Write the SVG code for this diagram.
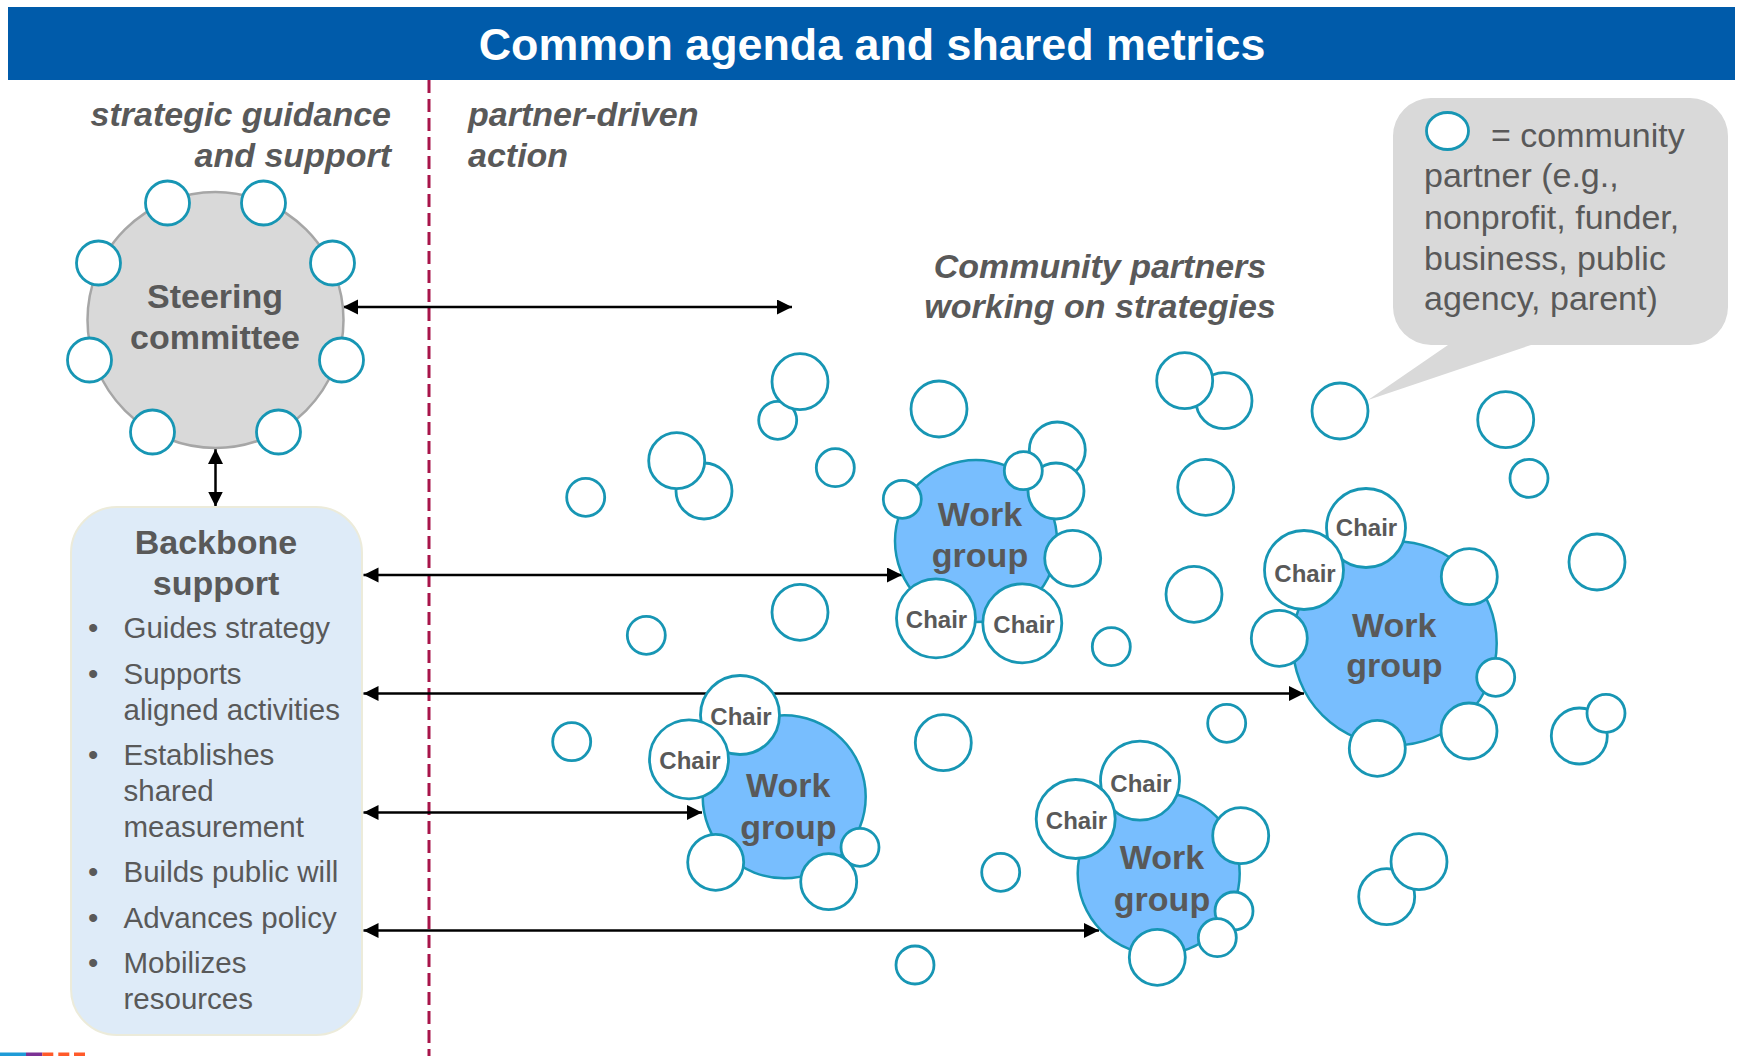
<svg xmlns="http://www.w3.org/2000/svg" width="1742" height="1056" viewBox="0 0 1742 1056">
<defs>
<style>
.t{font-family:"Liberation Sans",Arial,Helvetica,sans-serif;fill:#595959}
.b{font-weight:bold}
.i{font-style:italic}
.s34{font-size:34px}
.s30{font-size:29.5px}
.ch{font-size:24px;font-weight:bold;text-anchor:middle}
.m{text-anchor:middle}
.cp{fill:#ffffff;stroke:#1796B4;stroke-width:2.8}
.wg{fill:#78BEFE;stroke:#1796B4;stroke-width:2.5}
.conn{fill:none;stroke:#000;stroke-width:2.5;marker-start:url(#ah);marker-end:url(#ah)}
</style>
<marker id="ah" markerUnits="userSpaceOnUse" markerWidth="16" markerHeight="16" refX="15" refY="7.5" orient="auto-start-reverse" viewBox="0 0 16 16">
<path d="M0,0 L15,7.5 L0,15 Z" fill="#000"/>
</marker>
</defs>
<rect width="1742" height="1056" fill="#ffffff"/>

<g id="header">
<rect x="8" y="7" width="1727" height="73" fill="#005BAA"/>
<text x="872" y="60" class="m b" font-family="Liberation Sans, Arial, sans-serif" font-size="44.8" fill="#ffffff">Common agenda and shared metrics</text>
</g>

<line id="divider" x1="429" y1="80" x2="429" y2="1056" stroke="#A8154A" stroke-width="3" stroke-dasharray="13,6"/>

<g id="labels">
<text class="t b i s34" text-anchor="end" x="391" y="126">strategic guidance</text>
<text class="t b i s34" text-anchor="end" x="391" y="167">and support</text>
<text class="t b i s34" x="468" y="126">partner-driven</text>
<text class="t b i s34" x="468" y="167">action</text>
<text class="t b i s34 m" x="1100" y="278">Community partners</text>
<text class="t b i s34 m" x="1100" y="318">working on strategies</text>
</g>

<g id="legend">
<path d="M1431,98 H1690 A38,38 0 0 1 1728,136 V307 A38,38 0 0 1 1690,345 H1531 L1368,400 L1448,345 H1431 A38,38 0 0 1 1393,307 V136 A38,38 0 0 1 1431,98 Z" fill="#D9D9D9"/>
<ellipse cx="1447.5" cy="131" rx="21" ry="18.5" class="cp"/>
<text class="t s34" x="1491" y="147">= community</text>
<text class="t s34" x="1424" y="187">partner (e.g.,</text>
<text class="t s34" x="1424" y="229">nonprofit, funder,</text>
<text class="t s34" x="1424" y="270">business, public</text>
<text class="t s34" x="1424" y="310">agency, parent)</text>
</g>

<g id="connectors">
<line class="conn" x1="343" y1="307" x2="792" y2="307"/>
<line class="conn" x1="215.5" y1="449" x2="215.5" y2="506.5"/>
<line class="conn" x1="363.5" y1="575" x2="902" y2="575"/>
<line class="conn" x1="363.5" y1="693.5" x2="1304" y2="693.5"/>
<line class="conn" x1="363.5" y1="812.5" x2="702" y2="812.5"/>
<line class="conn" x1="363.5" y1="930.5" x2="1099" y2="930.5"/>
</g>

<g id="steering-committee">
<circle cx="215.5" cy="320" r="128" fill="#D9D9D9" stroke="#A6A6A6" stroke-width="2.5"/>
<circle class="cp" cx="167.5" cy="203" r="22"/>
<circle class="cp" cx="263.5" cy="203" r="22"/>
<circle class="cp" cx="98.5" cy="263" r="22"/>
<circle class="cp" cx="332.5" cy="263" r="22"/>
<circle class="cp" cx="89.5" cy="360" r="22"/>
<circle class="cp" cx="341.5" cy="360" r="22"/>
<circle class="cp" cx="152.5" cy="432" r="22"/>
<circle class="cp" cx="278.5" cy="432" r="22"/>
<text class="t b s34 m" x="215" y="308">Steering</text>
<text class="t b s34 m" x="215" y="349">committee</text>
</g>

<g id="backbone-support">
<rect x="71" y="507" width="291" height="528" rx="46" fill="#DEEBF8" stroke="#ECEBDA" stroke-width="2"/>
<text class="t b s34 m" x="216" y="554">Backbone</text>
<text class="t b s34 m" x="216" y="595">support</text>
<g class="t s30">
<text x="88" y="637.5">•</text><text x="123.5" y="637.5">Guides strategy</text>
<text x="88" y="684">•</text><text x="123.5" y="684">Supports</text>
<text x="123.5" y="719.5">aligned activities</text>
<text x="88" y="764.5">•</text><text x="123.5" y="764.5">Establishes</text>
<text x="123.5" y="801">shared</text>
<text x="123.5" y="836.5">measurement</text>
<text x="88" y="881.5">•</text><text x="123.5" y="881.5">Builds public will</text>
<text x="88" y="927.5">•</text><text x="123.5" y="927.5">Advances policy</text>
<text x="88" y="973">•</text><text x="123.5" y="973">Mobilizes</text>
<text x="123.5" y="1008.5">resources</text>
</g>
</g>

<g id="community-partners">
<circle class="cp" cx="777.7" cy="420.3" r="19"/>
<circle class="cp" cx="800" cy="381.7" r="28"/>
<circle class="cp" cx="939" cy="409" r="28"/>
<circle class="cp" cx="704" cy="491" r="28"/>
<circle class="cp" cx="676.7" cy="460.7" r="28"/>
<circle class="cp" cx="835.3" cy="467.7" r="19"/>
<circle class="cp" cx="585.7" cy="497.3" r="19"/>
<circle class="cp" cx="800" cy="612.3" r="28"/>
<circle class="cp" cx="646.3" cy="635.3" r="19"/>
<circle class="cp" cx="1224" cy="400.7" r="28"/>
<circle class="cp" cx="1184.7" cy="380.7" r="28"/>
<circle class="cp" cx="1340" cy="411" r="28"/>
<circle class="cp" cx="1205.7" cy="487.3" r="28"/>
<circle class="cp" cx="1194" cy="594.3" r="28"/>
<circle class="cp" cx="1111.3" cy="646.7" r="19"/>
<circle class="cp" cx="1505.7" cy="419.7" r="28"/>
<circle class="cp" cx="1529" cy="478.3" r="19"/>
<circle class="cp" cx="1597" cy="562" r="28"/>
<circle class="cp" cx="1579.3" cy="736" r="28"/>
<circle class="cp" cx="1606" cy="713.3" r="19"/>
<circle class="cp" cx="1226.7" cy="723.3" r="19"/>
<circle class="cp" cx="943.3" cy="742.7" r="28"/>
<circle class="cp" cx="571.7" cy="741.7" r="19"/>
<circle class="cp" cx="1000.7" cy="872.3" r="19"/>
<circle class="cp" cx="1386.7" cy="896.7" r="28"/>
<circle class="cp" cx="1419" cy="861.7" r="28"/>
<circle class="cp" cx="915" cy="965" r="19"/>
</g>

<g id="work-group-1">
<circle class="wg" cx="976" cy="541" r="81"/>
<circle class="cp" cx="1057.3" cy="450" r="28"/>
<circle class="cp" cx="1056" cy="491" r="28"/>
<circle class="cp" cx="1023.3" cy="470.7" r="19"/>
<circle class="cp" cx="902.3" cy="499.3" r="19"/>
<circle class="cp" cx="1072.7" cy="558.3" r="28"/>
<text class="t b s34 m" x="980" y="526">Work</text>
<text class="t b s34 m" x="980" y="567">group</text>
<circle class="cp" cx="1022.3" cy="623.3" r="39.5"/>
<text class="t ch" x="1024" y="632.5">Chair</text>
<circle class="cp" cx="936" cy="618.3" r="39.5"/>
<text class="t ch" x="936.5" y="628">Chair</text>
</g>

<g id="work-group-2">
<circle class="wg" cx="1394.7" cy="643.3" r="102"/>
<circle class="cp" cx="1469.3" cy="576.7" r="28"/>
<circle class="cp" cx="1495.7" cy="677.3" r="19"/>
<circle class="cp" cx="1469" cy="731" r="28"/>
<circle class="cp" cx="1377.3" cy="748.3" r="28"/>
<circle class="cp" cx="1279.3" cy="638.3" r="28"/>
<text class="t b s34 m" x="1394.3" y="637">Work</text>
<text class="t b s34 m" x="1394.3" y="677">group</text>
<circle class="cp" cx="1366" cy="528" r="39.5"/>
<text class="t ch" x="1366.5" y="536">Chair</text>
<circle class="cp" cx="1304" cy="570" r="39.5"/>
<text class="t ch" x="1305" y="582">Chair</text>
</g>

<g id="work-group-3">
<circle class="wg" cx="784.2" cy="796.8" r="81.5"/>
<circle class="cp" cx="715.7" cy="862.3" r="28"/>
<circle class="cp" cx="860" cy="847.3" r="19"/>
<circle class="cp" cx="828.7" cy="881.7" r="28"/>
<text class="t b s34 m" x="788.3" y="797">Work</text>
<text class="t b s34 m" x="788.3" y="838.5">group</text>
<circle class="cp" cx="740" cy="715" r="39.5"/>
<text class="t ch" x="741" y="724.5">Chair</text>
<circle class="cp" cx="689" cy="759.3" r="39.5"/>
<text class="t ch" x="690" y="768.5">Chair</text>
</g>

<g id="work-group-4">
<circle class="wg" cx="1158.7" cy="873.5" r="81"/>
<circle class="cp" cx="1240.7" cy="835.7" r="28"/>
<circle class="cp" cx="1234" cy="911" r="19"/>
<circle class="cp" cx="1217.3" cy="937.7" r="19"/>
<circle class="cp" cx="1157.3" cy="957.3" r="28"/>
<text class="t b s34 m" x="1162" y="868.5">Work</text>
<text class="t b s34 m" x="1162" y="910.5">group</text>
<circle class="cp" cx="1140" cy="780.7" r="39.5"/>
<text class="t ch" x="1141" y="792">Chair</text>
<circle class="cp" cx="1075.7" cy="819" r="39.5"/>
<text class="t ch" x="1076.5" y="829">Chair</text>
</g>

<g id="logo-strip">
<rect x="0" y="1052.5" width="26" height="3.5" fill="#1E9BD7"/>
<rect x="26" y="1052.5" width="16.3" height="3.5" fill="#7B3294"/>
<rect x="42.3" y="1052.5" width="11" height="3.5" fill="#FF5A2A"/>
<rect x="58.3" y="1052.5" width="11" height="3.5" fill="#FF5A2A"/>
<rect x="74" y="1052.5" width="11" height="3.5" fill="#FF5A2A"/>
</g>
</svg>
